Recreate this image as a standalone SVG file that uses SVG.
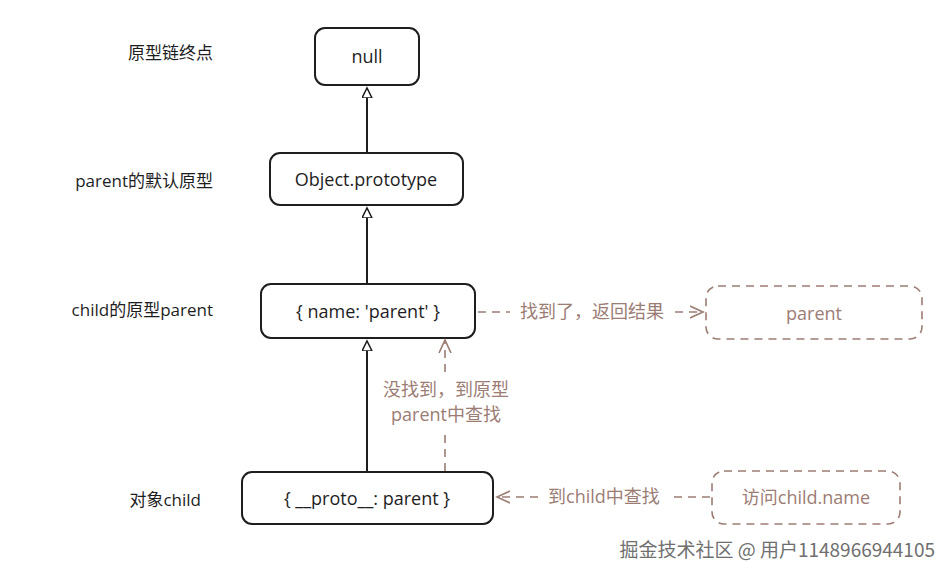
<svg xmlns="http://www.w3.org/2000/svg" width="952" height="578" viewBox="0 0 952 578">
<style>
.n{fill:#fff;stroke:#1e1e1e;stroke-width:2}
.d{fill:none;stroke:#9c7d74;stroke-width:1.6;stroke-dasharray:8 6}
.t{font-family:"Open Sans","Noto Sans CJK SC",sans-serif;font-size:18px;fill:#1e1e1e;text-anchor:middle;dominant-baseline:central}
.b{fill:#9c7d74}
.l{font-family:"Open Sans","Noto Sans CJK SC",sans-serif;font-size:17px;fill:#1e1e1e;text-anchor:end;dominant-baseline:central}
.e{stroke:#1e1e1e;stroke-width:2;fill:none}
</style>
<defs>
<marker id="tri" markerWidth="12" markerHeight="12" refX="10" refY="5" orient="auto" markerUnits="userSpaceOnUse"><path d="M0,0 L10,5 L0,10 Z" fill="#fff" stroke="#1e1e1e" stroke-width="1.5"/></marker>
<marker id="op" markerWidth="16" markerHeight="16" refX="13" refY="7" orient="auto" markerUnits="userSpaceOnUse"><path d="M0,1 L13,7 L0,13" fill="none" stroke="#9c7d74" stroke-width="1.6"/></marker>
</defs>
<rect width="952" height="578" fill="#fff"/>
<g id="labels">
<text class="l" x="213" y="52">原型链终点</text>
<text class="l" x="213" y="180">parent的默认原型</text>
<text class="l" x="213" y="309">child的原型parent</text>
<text class="l" x="201" y="499">对象child</text>
</g>
<g id="n-null"><rect class="n" x="315" y="28" width="104" height="57" rx="10"/><text class="t" x="367" y="56">null</text></g>
<g id="n-obj"><rect class="n" x="270" y="153" width="193" height="52" rx="10"/><text class="t" x="366" y="179">Object.prototype</text></g>
<g id="n-parent"><rect class="n" x="261" y="284" width="214" height="54" rx="10"/><text class="t" x="368" y="311">{ name: 'parent' }</text></g>
<g id="n-child"><rect class="n" x="242" y="472" width="251" height="52" rx="10"/><text class="t" x="367" y="498">{ __proto__: parent }</text></g>
<g id="n-result"><rect class="d" x="706" y="286" width="216" height="53" rx="12"/><text class="t b" x="814" y="313">parent</text></g>
<g id="n-access"><rect class="d" x="712" y="471" width="188" height="53" rx="12"/><text class="t b" x="806" y="497">访问child.name</text></g>
<g id="connectors">
<line class="e" x1="367" y1="153" x2="367" y2="88" marker-end="url(#tri)"/>
<line class="e" x1="367" y1="284" x2="367" y2="208" marker-end="url(#tri)"/>
<line class="e" x1="367" y1="471" x2="367" y2="341" marker-end="url(#tri)"/>
<line class="d" x1="445" y1="471" x2="445" y2="430"/>
<line class="d" x1="445" y1="372" x2="445" y2="340" marker-end="url(#op)"/>
<line class="d" x1="478" y1="312" x2="510" y2="312"/>
<line class="d" x1="675" y1="312" x2="703" y2="312" marker-end="url(#op)"/>
<line class="d" x1="710" y1="497" x2="670" y2="497"/>
<line class="d" x1="538" y1="497" x2="497" y2="497" marker-end="url(#op)"/>
<text class="t b" x="592" y="311">找到了，返回结果</text>
<text class="t b" x="604" y="496">到child中查找</text>
<text class="t b" x="446" y="389">没找到，到原型</text>
<text class="t b" x="446" y="414">parent中查找</text>
</g>
<text x="935" y="548" font-family="'Noto Sans CJK SC',sans-serif" font-size="19" fill="#6f6f6f" text-anchor="end" dominant-baseline="central">掘金技术社区 @ 用户1148966944105</text>
</svg>
